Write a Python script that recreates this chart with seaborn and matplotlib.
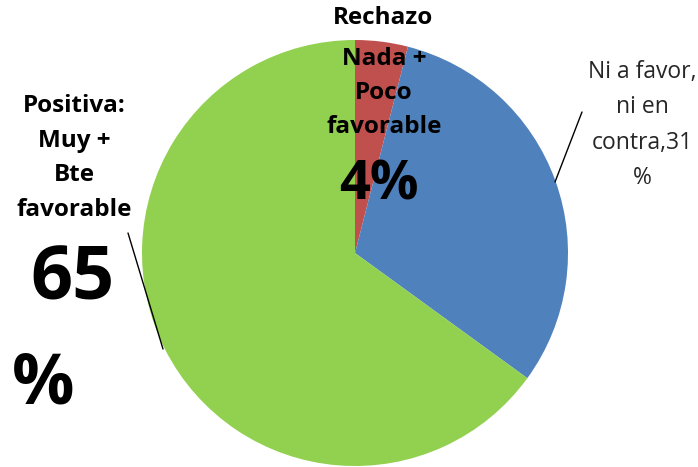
import matplotlib
matplotlib.use("Agg")
import matplotlib.pyplot as plt
from matplotlib.font_manager import FontProperties
import seaborn as sns

# Opinion shares (percent), drawn clockwise from the top
categories = ["Rechazo Nada + Poco favorable", "Ni a favor, ni en contra", "Positiva: Muy + Bte favorable"]
values = [4, 31, 65]
colors = ["#C0504D", "#4F81BD", "#92D050"]

sns.set_style("white")
plt.rcParams["font.family"] = ["Open Sans", "DejaVu Sans"]

W, H = 698, 467
fig = plt.figure(figsize=(W / 100, H / 100), dpi=100)
ax = fig.add_axes([0, 0, 1, 1])

cx, cy, r = 355, H - 253, 213
ax.pie(values, colors=colors, startangle=90, counterclock=False,
       center=(cx, cy), radius=r, frame=True,
       wedgeprops=dict(linewidth=0))
ax.set_xlim(0, W)
ax.set_ylim(0, H)
ax.set_aspect("equal")
ax.axis("off")

def Y(py):
    return H - py

def big(size):
    return FontProperties(family="Open Sans", weight="bold", size=size)

lbl = dict(fontsize=17.5, fontweight="bold", color="black")

# Rejection label
ax.text(383, Y(18), "Rechazo", ha="center", va="center", **lbl)
ax.text(384, Y(93), "Nada +\nPoco\nfavorable", ha="center", va="center",
        linespacing=1.58, **lbl)
ax.text(379, Y(186), f"{values[0]}%", ha="center", va="center",
        fontproperties=big(39), color="black")

# Neutral label
ax.text(642, Y(125), f"Ni a favor,\nni en\ncontra,{values[1]}\n%", ha="center", va="center",
        fontsize=16.5, color="#262626", linespacing=1.62)
ax.plot([582, 555], [Y(112), Y(182)], color="black", lw=1)

# Positive label
ax.text(74, Y(158), "Positiva:\nMuy +\nBte\nfavorable", ha="center", va="center",
        linespacing=1.6, **lbl)
ax.text(72, Y(281), f"{values[2]}", ha="center", va="center",
        fontproperties=big(53), color="black")
ax.text(43, Y(386), "%", ha="center", va="center",
        fontproperties=big(50), color="black")
ax.plot([128, 163], [Y(233), Y(349)], color="black", lw=1)

fig.savefig("out.png", dpi=100)
